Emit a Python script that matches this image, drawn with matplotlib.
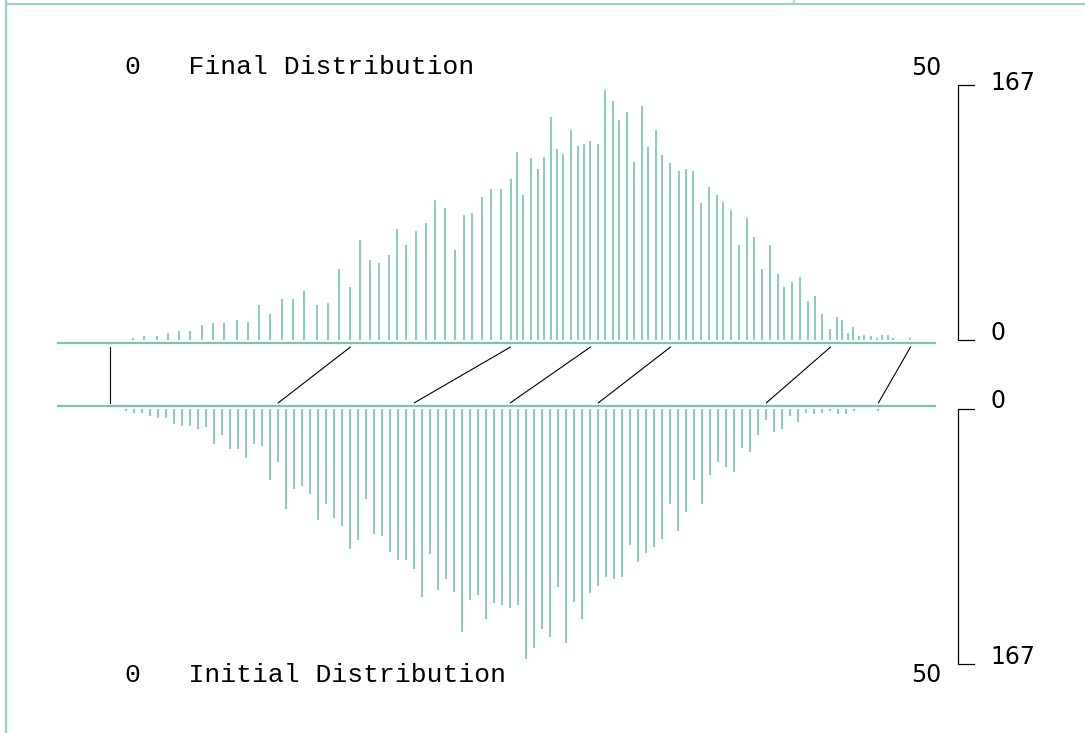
import matplotlib
matplotlib.use("Agg")
import matplotlib.pyplot as plt
from matplotlib.lines import Line2D

# counts per bin (same bins before / after the remap)
counts = [1.6, 2.8, 2.8, 4.8, 5.9, 5.9, 10.1, 11.2, 11.2, 13.1,
          12.1, 23.5, 17.4, 26.8, 26.8, 32.1, 23.5, 24.7, 46.7, 35.1,
          65.5, 52.9, 50.9, 56.1, 72.8, 62.4, 71.8, 77.0, 91.8, 86.4,
          59.2, 82.3, 83.4, 93.9, 99.1, 99.1, 105.4, 123.2, 95.0, 119.0,
          111.8, 120.1, 146.1, 125.2, 122.1, 137.8, 127.4, 128.4, 130.4, 128.4,
          164.0, 156.8, 144.1, 149.4, 116.9, 153.6, 126.4, 137.8, 121.1, 116.0,
          110.6, 111.8, 110.6, 89.7, 100.2, 94.9, 90.6, 85.5, 62.4, 80.2,
          67.7, 46.7, 62.4, 43.6, 35.1, 38.3, 41.5, 25.8, 28.8, 17.4,
          7.8, 15.3, 13.2, 4.8, 9.0, 2.8, 3.8, 2.8, 1.6, 3.8,
          3.8, 1.6, 1.6]

# bin positions in the initial distribution
x_initial = [-0.5, 0.0, 0.5, 1.0, 1.5, 2.0, 2.5, 3.0, 3.5, 4.0,
             4.5, 5.0, 5.5, 6.0, 6.5, 7.0, 7.5, 8.0, 8.5, 9.0,
             9.5, 10.0, 10.5, 11.0, 11.5, 12.0, 12.5, 13.0, 13.5, 14.0,
             14.5, 15.0, 15.5, 16.0, 16.5, 17.0, 17.5, 18.0, 18.5, 19.0,
             19.5, 20.0, 20.5, 21.0, 21.5, 22.0, 22.5, 23.0, 23.5, 24.0,
             24.5, 25.0, 25.5, 26.0, 26.5, 27.0, 27.5, 28.0, 28.5, 29.0,
             29.5, 30.0, 30.5, 31.0, 31.5, 32.0, 32.5, 33.0, 33.5, 34.0,
             34.5, 35.0, 35.5, 36.0, 36.5, 37.0, 37.5, 38.0, 38.5, 39.0,
             39.5, 40.0, 40.5, 41.0, 41.5, 42.0, 42.5, 43.0, 43.5, 44.0,
             44.5, 45.0, 46.5]

# where the same bins ended up
x_final = [-0.10, 0.61, 1.40, 2.11, 2.79, 3.50, 4.21, 4.90, 5.61, 6.40,
           7.09, 7.79, 8.50, 9.21, 9.90, 10.59, 11.40, 12.09, 12.79, 13.50,
           14.11, 14.71, 15.31, 15.92, 16.40, 17.00, 17.61, 18.21, 18.81, 19.42,
           20.03, 20.61, 21.11, 21.71, 22.31, 22.92, 23.52, 23.92, 24.31, 24.81,
           25.23, 25.59, 26.04, 26.40, 26.79, 27.29, 27.71, 28.11, 28.50, 29.00,
           29.40, 29.90, 30.29, 30.79, 31.23, 31.71, 32.11, 32.61, 33.00, 33.50,
           34.04, 34.50, 34.90, 35.40, 35.90, 36.40, 36.79, 37.31, 37.79, 38.31,
           38.71, 39.21, 39.71, 40.21, 40.61, 41.11, 41.61, 42.11, 42.56, 43.00,
           43.50, 43.90, 44.23, 44.61, 44.90, 45.31, 45.61, 46.03, 46.40, 46.71,
           47.09, 47.42, 48.50]

# mapping knots (initial -> final)
knots_initial = [-1.5, 9.0, 17.5, 23.5, 29.0, 39.5, 46.5]
knots_final = [-1.5, 13.5, 23.5, 28.5, 33.5, 43.5, 48.5]

ymax = 167
bar_col = "#7cc3b7"
frame_col = "#9ad2ca"
mono = "Liberation Mono"

W, H = 1085, 733
fig = plt.figure(figsize=(W / 100, H / 100), dpi=100)

left = 57.5 / W
width = 877 / W
ax1 = fig.add_axes([left, 1 - 340.5 / H, width, 255.5 / H])
ax2 = fig.add_axes([left, 1 - 663.5 / H, width, 255 / H])

for ax in (ax1, ax2):
    ax.set_xlim(-4.8, 50.0)
    ax.axis("off")
ax1.set_ylim(0, ymax)
ax2.set_ylim(ymax, 0)

ax1.vlines(x_final, 0, counts, color=bar_col, lw=1.25)
ax2.vlines(x_initial, 0, counts, color=bar_col, lw=1.25)
ax1.axhline(-1.45, color=bar_col, lw=1.6, clip_on=False)
ax2.axhline(-1.8, color=bar_col, lw=1.6, clip_on=False)

# connecting lines, drawn in ax1 data units
for xi, xf in zip(knots_initial, knots_final):
    ax1.plot([xi, xf], [-40.7, -4.3], color="black", lw=0.8, clip_on=False)

# scale bars
for ax, lab0, y0, lab1, y1 in ((ax1, "0", 0.3, "167", 163.6),
                               (ax2, "0", -0.5, "167", 167.3)):
    ax.plot([52.47, 51.47, 51.47, 52.47], [ymax, ymax, 0, 0],
            color="black", lw=0.9, clip_on=False)
    ax.text(53.5, y0, lab0, fontsize=17, va="baseline", ha="left")
    ax.text(53.5, y1, lab1, fontsize=17, va="baseline", ha="left")

ax1.text(-0.58, 174.5, "0   Final Distribution", family=mono, fontsize=19,
         va="baseline", ha="left")
ax2.text(-0.58, 179.3, "0   Initial Distribution", family=mono, fontsize=19,
         va="baseline", ha="left")
ax1.text(49.46, 173.8, "50", fontsize=17, va="baseline", ha="center")
ax2.text(49.46, 179.3, "50", fontsize=17, va="baseline", ha="center")

# frame bits from the surrounding page
fig.add_artist(Line2D([6.4 / W, 6.4 / W], [0, 1], color=frame_col, lw=1.6))
fig.add_artist(Line2D([6.4 / W, 1], [1 - 3.5 / H, 1 - 3.5 / H], color=frame_col, lw=1.6))
fig.add_artist(Line2D([794.4 / W, 794.4 / W], [1 - 3.5 / H, 1], color=frame_col, lw=1.2))

fig.savefig("out.png", dpi=100)
